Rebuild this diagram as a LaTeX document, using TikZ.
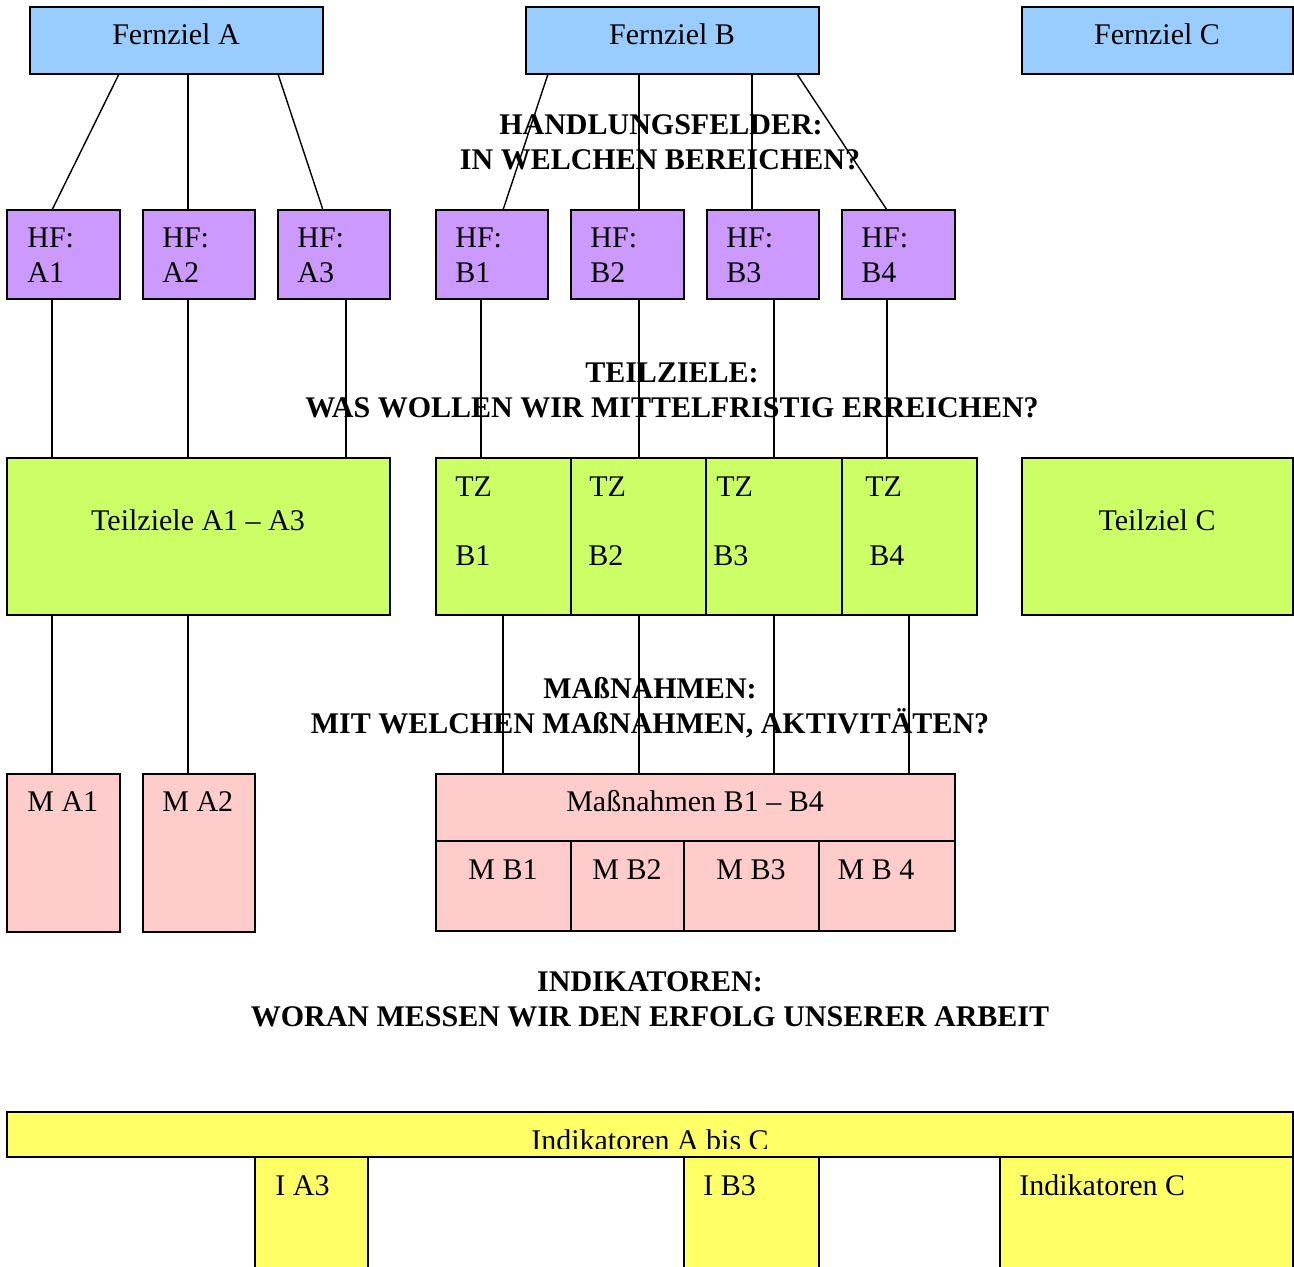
\documentclass[tikz,border=0pt]{standalone}
\usepackage{fontspec}
\setmainfont{Liberation Serif}
\usetikzlibrary{calc}
\definecolor{fzblue}{HTML}{99CCFF}
\definecolor{hfpurple}{HTML}{CC99FF}
\definecolor{tzgreen}{HTML}{CCFF66}
\definecolor{mpink}{HTML}{FFCCCC}
\definecolor{indyellow}{HTML}{FFFF66}
\newcommand{\bx}[6]{\node[box,fill=#6,minimum width={(#4-#2)*0.5pt},minimum height={(#5-#3)*0.5pt}] (#1) at (#2,#3) {};}
\begin{document}
\begin{tikzpicture}[x=0.5pt,y=-0.5pt,font=\fontsize{15}{17.5}\selectfont,
  box/.style={draw,line width=0.9pt,inner sep=0pt,outer sep=0pt,anchor=north west},
  txt/.style={inner sep=0pt,anchor=base},
  ltxt/.style={inner sep=0pt,anchor=base west},
  head/.style={inner sep=0pt,anchor=base,font=\fontsize{15}{17.5}\selectfont\bfseries},
  link/.style={line width=0.7pt}]
\useasboundingbox (0,0) rectangle (1294,1266);
\clip (0,0) rectangle (1294,1266);
% Fernziele
\bx{fa}{30}{7}{323}{74}{fzblue}
\bx{fb}{526}{7}{819}{74}{fzblue}
\bx{fc}{1022}{7}{1293}{74}{fzblue}
\node[txt] (tfa) at (176,44) {Fernziel A};
\node[txt] (tfb) at (672,44) {Fernziel B};
\node[txt] (tfc) at (1157,44) {Fernziel C};
% Handlungsfelder
\bx{hfa1}{7}{210}{120}{299}{hfpurple}
\bx{hfa2}{143}{210}{255}{299}{hfpurple}
\bx{hfa3}{278}{210}{390}{299}{hfpurple}
\bx{hfb1}{436}{210}{548}{299}{hfpurple}
\bx{hfb2}{571}{210}{684}{299}{hfpurple}
\bx{hfb3}{707}{210}{819}{299}{hfpurple}
\bx{hfb4}{842}{210}{955}{299}{hfpurple}
\foreach \n/\x/\l in {a1/27/A1,a2/162/A2,a3/297/A3,b1/455/B1,b2/590/B2,b3/726/B3,b4/861/B4}{
  \node[ltxt] (thf\n) at (\x,247) {HF:};
  \node[ltxt] (lhf\n) at (\x,282) {\l};
}
\node[head] (h1a) at (661,134) {HANDLUNGSFELDER:};
\node[head] (h1b) at (660,169) {IN WELCHEN BEREICHEN?};
% Teilziele
\bx{ta}{7}{458}{390}{615}{tzgreen}
\bx{tzb1}{436}{458}{571}{615}{tzgreen}
\bx{tzb2}{571}{458}{706}{615}{tzgreen}
\bx{tzb3}{706}{458}{842}{615}{tzgreen}
\bx{tzb4}{842}{458}{977}{615}{tzgreen}
\bx{tc}{1022}{458}{1293}{615}{tzgreen}
\node[txt] (tta) at (198,530) {Teilziele A1 -- A3};
\node[txt] (ttc) at (1157,530) {Teilziel C};
\foreach \n/\x/\y/\l in {b1/455/455/B1,b2/589/588/B2,b3/716/713/B3,b4/865/869/B4}{
  \node[ltxt] (ttz\n) at (\x,496) {TZ};
  \node[ltxt] (ltz\n) at (\y,565) {\l};
}
\node[head] (h2a) at (672,382) {TEILZIELE:};
\node[head] (h2b) at (672,417) {WAS WOLLEN WIR MITTELFRISTIG ERREICHEN?};
% Massnahmen
\bx{ma1}{7}{774}{120}{932}{mpink}
\bx{ma2}{143}{774}{255}{932}{mpink}
\bx{mb}{436}{774}{955}{841}{mpink}
\bx{mb1}{436}{841}{571}{931}{mpink}
\bx{mb2}{571}{841}{684}{931}{mpink}
\bx{mb3}{684}{841}{819}{931}{mpink}
\bx{mb4}{819}{841}{955}{931}{mpink}
\node[ltxt] (tma1) at (27,811) {M A1};
\node[ltxt] (tma2) at (162,811) {M A2};
\node[txt] (tmb) at (695,811) {Maßnahmen B1 -- B4};
\node[txt] (tmb1) at (503,879) {M B1};
\node[txt] (tmb2) at (627,879) {M B2};
\node[txt] (tmb3) at (751,879) {M B3};
\node[txt] (tmb4) at (876,879) {M B 4};
\node[head] (h3a) at (650,698) {MAßNAHMEN:};
\node[head] (h3b) at (650,733) {MIT WELCHEN MAßNAHMEN, AKTIVITÄTEN?};
% Indikatoren
\node[head] (h4a) at (650,991) {INDIKATOREN:};
\node[head] (h4b) at (650,1026) {WORAN MESSEN WIR DEN ERFOLG UNSERER ARBEIT};
\bx{ind}{7}{1112}{1293}{1157}{indyellow}
\begin{scope}
  \clip (7,1112) rectangle (1293,1148);
  \node[txt] (tind) at (650,1150) {Indikatoren A bis C};
\end{scope}
\bx{ia3}{255}{1157}{368}{1290}{indyellow}
\bx{ib3}{684}{1157}{819}{1290}{indyellow}
\bx{ic}{1000}{1157}{1293}{1290}{indyellow}
\node[ltxt] (tia3) at (275,1195) {I A3};
\node[ltxt] (tib3) at (703,1195) {I B3};
\node[ltxt] (tic) at (1019,1195) {Indikatoren C};
% connectors Fernziel -> HF
\draw[link] ($(fa.south west)+(89,0)$) -- ($(hfa1.north west)+(45,0)$);
\draw[link] ($(fa.south west)+(158,0)$) -- ($(hfa2.north west)+(45,0)$);
\draw[link] ($(fa.south west)+(248,0)$) -- ($(hfa3.north west)+(45,0)$);
\draw[link] ($(fb.south west)+(22,0)$) -- ($(hfb1.north west)+(67,0)$);
\draw[link] ($(fb.south west)+(113,0)$) -- ($(hfb2.north west)+(68,0)$);
\draw[link] ($(fb.south west)+(226,0)$) -- ($(hfb3.north west)+(45,0)$);
\draw[link] ($(fb.south west)+(271,0)$) -- ($(hfb4.north west)+(45,0)$);
% HF -> Teilziele
\draw[link] ($(hfa1.south west)+(45,0)$) -- ($(ta.north west)+(45,0)$);
\draw[link] ($(hfa2.south west)+(45,0)$) -- ($(ta.north west)+(181,0)$);
\draw[link] ($(hfa3.south west)+(68,0)$) -- ($(ta.north west)+(339,0)$);
\draw[link] ($(hfb1.south west)+(45,0)$) -- ($(tzb1.north west)+(45,0)$);
\draw[link] ($(hfb2.south west)+(68,0)$) -- ($(tzb2.north west)+(68,0)$);
\draw[link] ($(hfb3.south west)+(67,0)$) -- ($(tzb3.north west)+(68,0)$);
\draw[link] ($(hfb4.south west)+(45,0)$) -- ($(tzb4.north west)+(45,0)$);
% Teilziele -> Massnahmen
\draw[link] ($(ta.south west)+(45,0)$) -- ($(ma1.north west)+(45,0)$);
\draw[link] ($(ta.south west)+(181,0)$) -- ($(ma2.north west)+(45,0)$);
\draw[link] ($(tzb1.south west)+(67,0)$) -- ($(mb.north west)+(67,0)$);
\draw[link] ($(tzb2.south west)+(68,0)$) -- ($(mb.north west)+(203,0)$);
\draw[link] ($(tzb3.south west)+(68,0)$) -- ($(mb.north west)+(338,0)$);
\draw[link] ($(tzb4.south west)+(67,0)$) -- ($(mb.north west)+(473,0)$);
\end{tikzpicture}
\end{document}
